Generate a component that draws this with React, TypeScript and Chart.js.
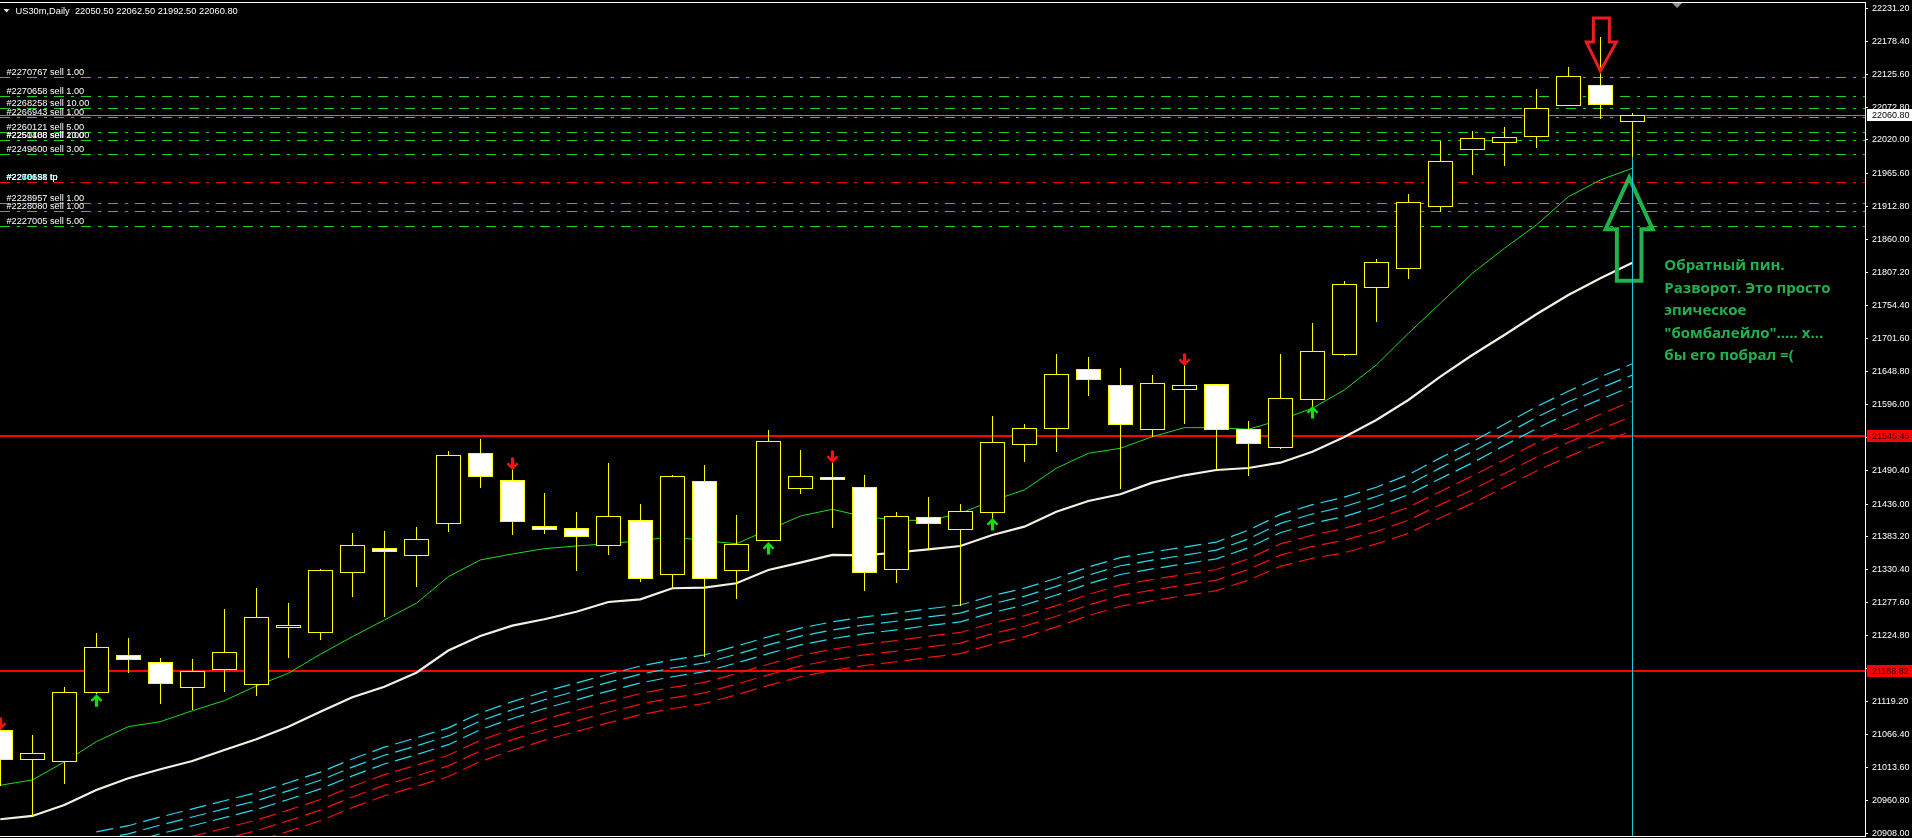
import React, { useEffect, useRef } from 'react';
import { Chart, registerables } from 'chart.js';

Chart.register(...registerables);

// ---------- data ----------
const symbolTitle = 'US30m,Daily';
const lastQuote = ['22050.50', '22062.50', '21992.50', '22060.80'];

const candleOpen = [
  21073.1, 21026.6, 21023.4, 21135.0, 21193.4, 21182.2, 21142.1, 21171.9, 21146.9, 21239.3,
  21230.3, 21326.5, 21366.0, 21354.3, 21405.1, 21517.4, 21474.1, 21401.3, 21397.1, 21369.8,
  21410.0, 21324.3, 21472.5, 21329.8, 21377.9, 21461.3, 21478.9, 21462.9, 21331.4, 21414.7,
  21395.5, 21423.7, 21531.8, 21557.5, 21652.1, 21626.5, 21555.9, 21620.1, 21628.1, 21555.9,
  21527.0, 21604.0, 21676.2, 21783.7, 21815.1, 21914.6, 22005.0, 22016.3, 22026.9, 22075.6,
  22107.7, 22050.5,
];
const candleHigh = [
  21080.0, 21065.6, 21142.5, 21229.2, 21220.7, 21189.1, 21187.5, 21267.7, 21301.4, 21277.3,
  21331.8, 21389.6, 21392.0, 21399.2, 21521.1, 21540.4, 21495.9, 21453.7, 21423.3, 21501.9,
  21435.6, 21482.1, 21498.6, 21417.9, 21554.8, 21522.7, 21509.9, 21482.6, 21422.8, 21447.3,
  21436.1, 21577.3, 21564.4, 21676.7, 21671.9, 21654.3, 21643.0, 21664.3, 21628.1, 21569.2,
  21676.7, 21725.9, 21793.8, 21829.1, 21933.3, 22018.8, 22034.4, 22040.8, 22101.3, 22137.0,
  22185.0, 22062.5,
];
const candleLow = [
  20984.1, 20934.5, 20987.5, 21131.0, 21165.5, 21115.3, 21105.7, 21135.0, 21128.6, 21189.6,
  21218.4, 21287.4, 21255.3, 21303.4, 21391.7, 21462.2, 21386.8, 21388.5, 21329.1, 21354.8,
  21311.5, 21300.9, 21191.2, 21284.2, 21376.8, 21452.6, 21398.1, 21297.0, 21309.8, 21362.3,
  21272.5, 21410.4, 21503.9, 21520.0, 21609.8, 21460.6, 21543.1, 21564.4, 21490.1, 21481.5,
  21524.8, 21591.7, 21673.9, 21728.5, 21797.5, 21904.9, 21964.3, 21978.7, 22007.6, 22075.6,
  22054.1, 21992.5,
];
const candleClose = [
  21027.6, 21036.2, 21134.0, 21206.2, 21187.9, 21149.5, 21167.8, 21198.2, 21254.4, 21242.0,
  21329.8, 21370.3, 21360.0, 21379.9, 21514.2, 21480.5, 21408.4, 21395.5, 21384.3, 21416.3,
  21317.0, 21480.5, 21317.0, 21371.4, 21536.7, 21480.5, 21475.7, 21326.5, 21416.3, 21405.6,
  21424.4, 21535.1, 21557.5, 21644.6, 21636.1, 21563.9, 21629.7, 21626.5, 21556.9, 21533.5,
  21605.6, 21681.0, 21788.5, 21823.8, 21920.0, 21985.8, 22022.7, 22024.3, 22070.8, 22122.1,
  22077.2, 22060.8,
];

const fastMA = [
  20984.9, 20993.4, 21022.3, 21054.8, 21078.9, 21086.9, 21104.5, 21120.6, 21144.2, 21164.5,
  21195.0, 21223.2, 21250.0, 21276.8, 21319.5, 21346.3, 21355.9, 21364.4, 21368.7, 21372.4,
  21377.2, 21383.6, 21377.2, 21372.4, 21394.4, 21416.8, 21427.6, 21415.7, 21410.4, 21409.3,
  21421.2, 21441.4, 21458.6, 21493.4, 21517.4, 21525.4, 21544.0, 21558.5, 21558.5, 21555.9,
  21570.8, 21589.6, 21619.0, 21659.1, 21709.9, 21758.0, 21806.1, 21846.2, 21883.6, 21929.0,
  21955.8, 21974.6,
];
const slowMA = [
  20930.4, 20935.7, 20953.3, 20977.4, 20996.1, 21010.6, 21023.9, 21041.5, 21058.7, 21078.9,
  21102.9, 21126.0, 21143.0, 21165.5, 21201.1, 21224.4, 21240.9, 21251.2, 21263.3, 21278.9,
  21283.2, 21300.9, 21301.8, 21308.9, 21330.2, 21341.9, 21354.3, 21353.8, 21358.3, 21363.4,
  21368.7, 21386.4, 21399.7, 21423.7, 21440.9, 21451.7, 21470.3, 21482.1, 21490.6, 21493.8,
  21502.3, 21520.0, 21543.6, 21570.8, 21602.9, 21640.3, 21675.1, 21707.2, 21740.4, 21771.3,
  21798.1, 21823.1,
];

const BAND_START = 3;
const bandCyan1 = [
  20910, 20920, 20934, 20947, 20960, 20973, 20989, 21006, 21027, 21046,
  21061, 21077, 21101, 21119, 21135, 21149, 21163, 21176, 21186, 21194,
  21208, 21223, 21237, 21247, 21255, 21261, 21268, 21274, 21289, 21301,
  21317, 21335, 21350, 21359, 21367, 21375, 21394, 21419, 21435, 21447,
  21463, 21483, 21510, 21536, 21564, 21592, 21617, 21640, 21661,
];
const bandCyan2 = [
  20897, 20907, 20921, 20934, 20947, 20960, 20976, 20993, 21014, 21033,
  21048, 21064, 21088, 21106, 21122, 21136, 21150, 21163, 21173, 21181,
  21195, 21210, 21224, 21234, 21242, 21248, 21255, 21261, 21276, 21288,
  21304, 21322, 21337, 21346, 21354, 21362, 21380, 21405, 21420, 21432,
  21448, 21467, 21494, 21520, 21547, 21575, 21600, 21622, 21643,
];
const bandCyan3 = [
  20883, 20893, 20907, 20920, 20933, 20946, 20962, 20979, 21000, 21019,
  21034, 21050, 21074, 21092, 21108, 21122, 21136, 21149, 21159, 21167,
  21181, 21196, 21210, 21220, 21228, 21234, 21241, 21247, 21262, 21274,
  21290, 21308, 21323, 21332, 21340, 21348, 21366, 21390, 21405, 21416,
  21432, 21451, 21477, 21502, 21530, 21557, 21582, 21604, 21625,
];
const bandRed1 = [
  20866, 20876, 20890, 20903, 20916, 20929, 20945, 20962, 20983, 21002,
  21017, 21033, 21057, 21075, 21091, 21105, 21119, 21132, 21142, 21150,
  21164, 21179, 21193, 21203, 21211, 21217, 21224, 21230, 21245, 21257,
  21273, 21291, 21306, 21315, 21323, 21331, 21348, 21372, 21386, 21397,
  21412, 21431, 21456, 21481, 21507, 21534, 21558, 21580, 21601,
];
const bandRed2 = [
  20849, 20859, 20873, 20886, 20899, 20912, 20928, 20945, 20966, 20985,
  21000, 21016, 21040, 21058, 21074, 21088, 21102, 21115, 21125, 21133,
  21147, 21162, 21176, 21186, 21194, 21200, 21207, 21213, 21228, 21240,
  21256, 21274, 21289, 21298, 21306, 21314, 21331, 21354, 21368, 21378,
  21392, 21410, 21435, 21459, 21485, 21511, 21535, 21556, 21577,
];
const bandRed3 = [
  20832, 20842, 20856, 20869, 20882, 20895, 20911, 20928, 20949, 20968,
  20983, 20999, 21023, 21041, 21057, 21071, 21085, 21098, 21108, 21116,
  21130, 21145, 21159, 21169, 21177, 21183, 21190, 21196, 21211, 21223,
  21239, 21257, 21272, 21281, 21289, 21297, 21314, 21336, 21349, 21358,
  21372, 21389, 21414, 21437, 21463, 21489, 21512, 21534, 21554,
];

const yTickValues = [
  22231.2, 22178.4, 22125.6, 22072.8, 22020.0, 21965.6, 21912.8, 21860.0, 21807.2, 21754.4,
  21701.6, 21648.8, 21596.0, 21543.2, 21490.4, 21436.0, 21383.2, 21330.4, 21277.6, 21224.8,
  21172.0, 21119.2, 21066.4, 21013.6, 20960.8, 20908.0,
];
const Y_MIN = 20903.5;
const Y_MAX = 22241.3;

const levelPrices = [22120.5, 22091.0, 22070.8, 22056.4, 22033.3, 22019.5, 21997.0, 21952.1, 21918.4, 21905.6, 21881.5];
const levelKinds = ['sell', 'sell', 'sell', 'sell', 'sell', 'sell', 'sell', 'tp', 'sell', 'sell', 'sell'];
const levelLabels = [
  ['#2270767 sell 1.00'],
  ['#2270658 sell 1.00'],
  ['#2268258 sell 10.00'],
  ['#2266943 sell 1.00'],
  ['#2260121 sell 5.00'],
  ['#2251488 sell 2.00', '#2250108 sell 10.00'],
  ['#2249600 sell 3.00'],
  ['#2260121 tp', '#2248658 tp', '#2270658 tp'],
  ['#2228957 sell 1.00'],
  ['#2228080 sell 1.00'],
  ['#2227005 sell 5.00'],
];
const supportLevels = [21545.45, 21168.82];
const currentPrice = 22060.8;

const upArrowIndex = [3, 24, 31, 41];
const upArrowPrice = [21131.0, 21375.2, 21413.6, 21593.3];
const downArrowIndex = [0, 16, 26, 37];
const downArrowPrice = [21073.6, 21490.6, 21501.9, 21657.4];

const noteLines = [
  'Обратный пин.',
  'Разворот. Это просто',
  'эпическое',
  '"бомбалейло"..... х...',
  'бы его побрал =(',
];
const noteIndex = 52;
const notePrice = 21811.4;
const redArrowIndex = 50;
const redArrowTipPrice = 22130.6;
const greenArrowIndex = 50.9;
const greenArrowTipPrice = 21959.5;
const vlineIndex = 51;

const X_MIN = -0.01;
const X_MAX = 58.27;

// ---------- styles ----------
const BG = '#000000';
const CANDLE_LINE = '#ffff00';
const FONT_SMALL = '"Liberation Sans", Arial, sans-serif';

const toXY = (arr: number[], start = 0) => arr.map((v, i) => ({ x: i + start, y: v }));

function drawUpArrow(ctx: CanvasRenderingContext2D, cx: number, ty: number, color: string) {
  ctx.beginPath();
  ctx.moveTo(cx, ty);
  ctx.lineTo(cx + 6, ty + 6);
  ctx.lineTo(cx + 4, ty + 7.5);
  ctx.lineTo(cx + 1.6, ty + 5);
  ctx.lineTo(cx + 1.6, ty + 12.5);
  ctx.lineTo(cx - 1.6, ty + 12.5);
  ctx.lineTo(cx - 1.6, ty + 5);
  ctx.lineTo(cx - 4, ty + 7.5);
  ctx.lineTo(cx - 6, ty + 6);
  ctx.closePath();
  ctx.fillStyle = color;
  ctx.fill();
}
function drawDownArrow(ctx: CanvasRenderingContext2D, cx: number, ty: number, color: string) {
  ctx.beginPath();
  ctx.moveTo(cx, ty);
  ctx.lineTo(cx + 6, ty - 6);
  ctx.lineTo(cx + 4, ty - 7.5);
  ctx.lineTo(cx + 1.6, ty - 5);
  ctx.lineTo(cx + 1.6, ty - 12.5);
  ctx.lineTo(cx - 1.6, ty - 12.5);
  ctx.lineTo(cx - 1.6, ty - 5);
  ctx.lineTo(cx - 4, ty - 7.5);
  ctx.lineTo(cx - 6, ty - 6);
  ctx.closePath();
  ctx.fillStyle = color;
  ctx.fill();
}

const mt4Plugin = {
  id: 'mt4',
  beforeDraw(chart: any) {
    const { ctx, width, height } = chart;
    ctx.save();
    ctx.fillStyle = BG;
    ctx.fillRect(0, 0, width, height);
    ctx.restore();
  },
  beforeDatasetsDraw(chart: any) {
    const { ctx, chartArea: ca, scales } = chart;
    const y = scales.y;
    ctx.save();
    ctx.beginPath();
    ctx.rect(ca.left, ca.top, ca.right - ca.left, ca.bottom - ca.top);
    ctx.clip();
    levelPrices.forEach((p, i) => {
      const py = Math.round(y.getPixelForValue(p)) + 0.5;
      ctx.strokeStyle = levelKinds[i] === 'tp' ? '#ff0000' : '#22d022';
      ctx.lineWidth = 1;
      ctx.setLineDash([10, 7, 3, 7]);
      ctx.beginPath();
      ctx.moveTo(ca.left, py);
      ctx.lineTo(ca.right, py);
      ctx.stroke();
    });
    ctx.setLineDash([]);
    supportLevels.forEach((p) => {
      const py = Math.round(y.getPixelForValue(p));
      ctx.fillStyle = '#ff0000';
      ctx.fillRect(ca.left, py - 1, ca.right - ca.left, 2);
    });
    const cp = Math.round(y.getPixelForValue(currentPrice)) + 0.5;
    ctx.strokeStyle = '#778899';
    ctx.beginPath();
    ctx.moveTo(ca.left, cp);
    ctx.lineTo(ca.right, cp);
    ctx.stroke();
    ctx.restore();
  },
  afterDatasetsDraw(chart: any) {
    const { ctx, chartArea: ca, scales } = chart;
    const x = scales.x;
    const y = scales.y;
    ctx.save();
    ctx.beginPath();
    ctx.rect(ca.left, ca.top, ca.right - ca.left, ca.bottom - ca.top);
    ctx.clip();

    const vx = Math.round(x.getPixelForValue(vlineIndex));
    const vTop = Math.round(y.getPixelForValue(candleLow[vlineIndex]));
    ctx.fillStyle = '#22c8d8';
    ctx.fillRect(vx, vTop, 1, ca.bottom - vTop);

    const half = Math.round(x.getPixelForValue(0.375) - x.getPixelForValue(0));
    for (let i = 0; i < candleOpen.length; i++) {
      const cx = Math.round(x.getPixelForValue(i));
      const yo = y.getPixelForValue(candleOpen[i]);
      const yc = y.getPixelForValue(candleClose[i]);
      const yh = Math.round(y.getPixelForValue(candleHigh[i]));
      const yl = Math.round(y.getPixelForValue(candleLow[i]));
      ctx.fillStyle = CANDLE_LINE;
      ctx.fillRect(cx, yh, 1, Math.max(1, yl - yh));
      const top = Math.round(Math.min(yo, yc));
      const bot = Math.round(Math.max(yo, yc));
      const bull = candleClose[i] >= candleOpen[i];
      const h = Math.max(1, bot - top);
      ctx.fillStyle = CANDLE_LINE;
      ctx.fillRect(cx - half, top, 2 * half + 1, h + 1);
      if (h >= 2) {
        ctx.fillStyle = bull ? '#000000' : '#ffffff';
        ctx.fillRect(cx - half + 1, top + 1, 2 * half - 1, h - 1);
      }
    }

    upArrowIndex.forEach((k, i) => {
      drawUpArrow(ctx, Math.round(x.getPixelForValue(k)) + 0.5, y.getPixelForValue(upArrowPrice[i]), '#10e010');
    });
    downArrowIndex.forEach((k, i) => {
      drawDownArrow(ctx, Math.round(x.getPixelForValue(k)) + 0.5, y.getPixelForValue(downArrowPrice[i]), '#ff1010');
    });

    {
      const tx = x.getPixelForValue(redArrowIndex);
      const ty = y.getPixelForValue(redArrowTipPrice);
      const cx = tx + 1;
      ctx.strokeStyle = '#ed1c24';
      ctx.lineWidth = 3;
      ctx.lineJoin = 'miter';
      ctx.beginPath();
      ctx.moveTo(cx - 8, ty - 53);
      ctx.lineTo(cx + 8, ty - 53);
      ctx.lineTo(cx + 8, ty - 29);
      ctx.lineTo(cx + 15, ty - 29);
      ctx.lineTo(tx, ty);
      ctx.lineTo(cx - 15, ty - 29);
      ctx.lineTo(cx - 8, ty - 29);
      ctx.closePath();
      ctx.stroke();
    }
    {
      const tx = x.getPixelForValue(greenArrowIndex);
      const ty = y.getPixelForValue(greenArrowTipPrice);
      ctx.strokeStyle = '#22b14c';
      ctx.lineWidth = 4;
      ctx.beginPath();
      ctx.moveTo(tx, ty);
      ctx.lineTo(tx + 23.5, ty + 51.5);
      ctx.lineTo(tx + 12.3, ty + 51.5);
      ctx.lineTo(tx + 12.3, ty + 103);
      ctx.lineTo(tx - 12.3, ty + 103);
      ctx.lineTo(tx - 12.3, ty + 51.5);
      ctx.lineTo(tx - 23.5, ty + 51.5);
      ctx.closePath();
      ctx.stroke();
      ctx.fillStyle = '#22c8d8';
      ctx.fillRect(vx, Math.round(ty), 1, 110);
    }
    ctx.restore();
  },
  afterDraw(chart: any) {
    const { ctx, chartArea: ca, scales, width } = chart;
    const x = scales.x;
    const y = scales.y;
    ctx.save();

    ctx.fillStyle = '#ffffff';
    ctx.fillRect(0, ca.top, ca.right + 1, 1);
    ctx.fillRect(0, ca.bottom, ca.right + 1, 1);

    const sx = x.getPixelForValue(52.4);
    ctx.fillStyle = '#8a94a0';
    ctx.beginPath();
    ctx.moveTo(sx - 5, ca.top + 1);
    ctx.lineTo(sx + 5, ca.top + 1);
    ctx.lineTo(sx, ca.top + 6);
    ctx.closePath();
    ctx.fill();

    ctx.fillStyle = '#e8e8e8';
    ctx.beginPath();
    ctx.moveTo(3.5, 9);
    ctx.lineTo(9.5, 9);
    ctx.lineTo(6.5, 12.5);
    ctx.closePath();
    ctx.fill();
    ctx.font = `9.3px ${FONT_SMALL}`;
    ctx.fillStyle = '#ffffff';
    ctx.textBaseline = 'alphabetic';
    ctx.textAlign = 'left';
    ctx.fillText(`${symbolTitle}  ${lastQuote.join(' ')}`, 15.5, 14);

    ctx.font = `9.2px ${FONT_SMALL}`;
    levelPrices.forEach((p, i) => {
      const py = Math.round(y.getPixelForValue(p));
      levelLabels[i].forEach((t, j) => {
        if (levelKinds[i] === 'tp') {
          ctx.fillStyle = j === 1 ? '#00ffff' : '#ffffff';
        } else {
          ctx.fillStyle = '#ffffff';
        }
        ctx.fillText(t, 6.5, py - 2.5);
      });
    });

    const axisLeft = ca.right;
    const box = (p: number, bg: string, fg: string) => {
      const py = Math.round(y.getPixelForValue(p));
      ctx.fillStyle = bg;
      ctx.fillRect(axisLeft + 2, py - 6, width - axisLeft - 2, 12);
      ctx.fillStyle = fg;
      ctx.font = `9px ${FONT_SMALL}`;
      ctx.textBaseline = 'middle';
      ctx.fillText(p.toFixed(2), axisLeft + 7, py + 0.5);
    };
    supportLevels.forEach((p) => box(p, '#ff0000', '#200000'));
    box(currentPrice, '#ffffff', '#000000');

    ctx.textBaseline = 'alphabetic';
    ctx.font = 'bold 15px "Open Sans", "Noto Sans", sans-serif';
    ctx.fillStyle = '#22b14c';
    const nx = x.getPixelForValue(noteIndex);
    const ny = y.getPixelForValue(notePrice);
    noteLines.forEach((t, i) => ctx.fillText(t, nx, ny + i * 22.5));

    ctx.restore();
  },
};

export default function App() {
  const ref = useRef<HTMLCanvasElement | null>(null);
  useEffect(() => {
    document.body.style.margin = '0';
    document.body.style.background = '#000';
    const canvas = ref.current;
    if (!canvas) return;
    const bandStyle = (data: number[], color: string) => ({
      data: toXY(data, BAND_START),
      borderColor: color,
      borderWidth: 1.2,
      borderDash: [17, 7],
      pointRadius: 0,
      tension: 0,
      clip: 0,
    });
    const chart = new Chart(canvas, {
      type: 'line',
      data: {
        datasets: [
          { data: toXY(slowMA), borderColor: '#f3f1e4', borderWidth: 2.2, pointRadius: 0, tension: 0, clip: 0 },
          { data: toXY(fastMA), borderColor: '#1fdc1f', borderWidth: 1, pointRadius: 0, tension: 0, clip: 0 },
          bandStyle(bandCyan1, '#25dbea'),
          bandStyle(bandCyan2, '#25dbea'),
          bandStyle(bandCyan3, '#25dbea'),
          bandStyle(bandRed1, '#f01010'),
          bandStyle(bandRed2, '#f01010'),
          bandStyle(bandRed3, '#f01010'),
        ] as any,
      },
      options: {
        responsive: false,
        maintainAspectRatio: false,
        animation: false,
        events: [],
        layout: { padding: { top: 2, bottom: 2, left: 0, right: 0 } },
        plugins: { legend: { display: false }, tooltip: { enabled: false } },
        scales: {
          x: { type: 'linear', min: X_MIN, max: X_MAX, display: false },
          y: {
            type: 'linear',
            position: 'right',
            min: Y_MIN,
            max: Y_MAX,
            afterBuildTicks: (s: any) => {
              s.ticks = yTickValues.map((v) => ({ value: v }));
            },
            afterFit: (s: any) => {
              s.width = 47;
              s.paddingTop = 0;
              s.paddingBottom = 0;
            },
            grid: { drawOnChartArea: false, drawTicks: true, tickLength: 3, color: '#ffffff' },
            border: { display: true, color: '#ffffff', width: 1 },
            ticks: {
              color: '#ffffff',
              font: { family: FONT_SMALL, size: 9 },
              padding: 4,
              autoSkip: false,
              maxRotation: 0,
              callback: (v: any) => Number(v).toFixed(2),
            },
          },
        },
      } as any,
      plugins: [mt4Plugin],
    });
    return () => chart.destroy();
  }, []);
  return (
    <canvas ref={ref} width={1912} height={838} style={{ display: 'block', width: 1912, height: 838 }} />
  );
}
